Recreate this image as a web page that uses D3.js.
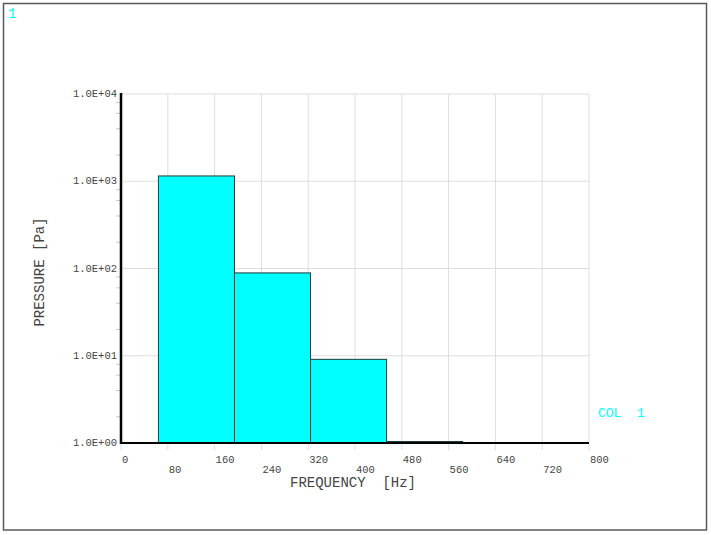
<!DOCTYPE html>
<html>
<head>
<meta charset="utf-8">
<script src="https://cdn.jsdelivr.net/npm/d3@7/dist/d3.min.js"></script>
<style>
  html, body { margin: 0; padding: 0; background: #fff; }
  svg { display: block; }
  text { font-family: "Liberation Mono", "Courier New", monospace; }
</style>
</head>
<body>
<svg id="chart" width="711" height="535"></svg>
<script>
// ---- data ----
const bandLow   = [64, 194, 324, 454];
const bandHigh  = [194, 324, 454, 584];
const pressure  = [1150, 89, 9.1, 1.04];
const xTicks    = [0, 80, 160, 240, 320, 400, 480, 560, 640, 720, 800];
const yDecades  = [1, 10, 100, 1000, 10000];
const yTickLabels = ["1.0E+00", "1.0E+01", "1.0E+02", "1.0E+03", "1.0E+04"];
const yMinorMult = [2, 4, 6, 8];
const seriesName = "COL  1";
const windowLabel = "1";
const xTitle = "FREQUENCY  [Hz]";
const yTitle = "PRESSURE [Pa]";

const svg = d3.select("#chart");
const pLeft = 121, pRight = 589, pTop = 94, pBottom = 443;

const x = d3.scaleLinear().domain([0, 800]).range([pLeft, pRight]);
const y = d3.scaleLog().domain([1, 10000]).range([pBottom, pTop]);

// frame
svg.append("rect").attr("x", 3.5).attr("y", 3.5).attr("width", 703).attr("height", 526.5)
  .attr("fill", "#fff").attr("stroke", "#5a5a5a").attr("stroke-width", 1.5);

// window number
svg.append("text").attr("x", 8).attr("y", 18).attr("fill", "#00ffff")
  .attr("font-size", 14).text(windowLabel);

const grid = "#dedede";
// vertical grid lines (extend below axis as ticks)
svg.append("g").selectAll("line").data(xTicks).join("line")
  .attr("x1", d => x(d)).attr("x2", d => x(d))
  .attr("y1", pTop).attr("y2", pBottom + 7)
  .attr("stroke", grid).attr("stroke-width", 1);

// horizontal grid lines
svg.append("g").selectAll("line").data(yDecades).join("line")
  .attr("x1", pLeft).attr("x2", pRight)
  .attr("y1", d => y(d)).attr("y2", d => y(d))
  .attr("stroke", grid).attr("stroke-width", 1);

// minor y ticks
const minor = [];
yDecades.slice(0, -1).forEach(d => yMinorMult.forEach(m => minor.push(d * m)));
svg.append("g").selectAll("line").data(minor).join("line")
  .attr("x1", pLeft - 5).attr("x2", pLeft - 1)
  .attr("y1", d => y(d)).attr("y2", d => y(d))
  .attr("stroke", "#c8c8c8").attr("stroke-width", 1);

// bars
svg.append("g").selectAll("rect").data(pressure).join("rect")
  .attr("x", (d, i) => x(bandLow[i]))
  .attr("width", (d, i) => x(bandHigh[i]) - x(bandLow[i]))
  .attr("y", d => y(d))
  .attr("height", d => y(1) - y(d))
  .attr("fill", "#00ffff")
  .attr("stroke", "#1f3a3a").attr("stroke-width", 1);

// axes lines
svg.append("line").attr("x1", pLeft).attr("x2", pRight).attr("y1", pBottom).attr("y2", pBottom)
  .attr("stroke", "#000").attr("stroke-width", 2.2);
svg.append("line").attr("x1", pLeft).attr("x2", pLeft).attr("y1", pTop - 1).attr("y2", pBottom + 1)
  .attr("stroke", "#000").attr("stroke-width", 2.5);

// y tick labels
svg.append("g").selectAll("text").data(yDecades).join("text")
  .attr("x", pLeft - 4).attr("y", d => y(d) + 3)
  .attr("text-anchor", "end").attr("font-size", 10.5).attr("fill", "#444")
  .text((d, i) => yTickLabels[i]);

// x tick labels (staggered)
svg.append("g").selectAll("text").data(xTicks).join("text")
  .attr("x", d => x(d) + 1)
  .attr("y", (d, i) => i % 2 === 0 ? 463 : 473)
  .attr("font-size", 10.5).attr("fill", "#444")
  .text(d => d);

// axis titles
svg.append("text").attr("x", 353).attr("y", 487).attr("text-anchor", "middle")
  .attr("font-size", 14).attr("fill", "#444").style("white-space", "pre")
  .text(xTitle);
svg.append("text").attr("transform", "translate(44,272) rotate(-90)")
  .attr("text-anchor", "middle").attr("font-size", 14).attr("fill", "#444")
  .text(yTitle);

// series label
svg.append("text").attr("x", 598).attr("y", 417).attr("font-size", 13)
  .attr("fill", "#00ffff").style("white-space", "pre").text(seriesName);
</script>
</body>
</html>
